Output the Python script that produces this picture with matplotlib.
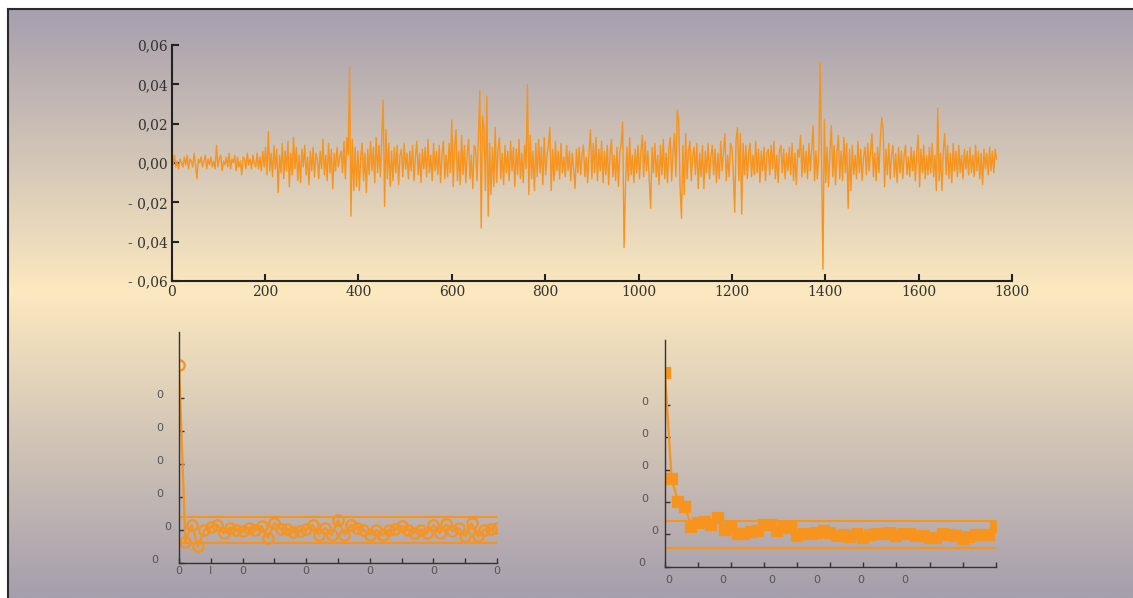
import numpy as np
import matplotlib.pyplot as plt

obs_step = 3
returns_milli = [
    3, -1, 4, -2, 1, -3, 2, 0, -2, 3,
    -1, 4, -3, 2, 1, -2, 5, -1, -8, 2,
    0, 3, -2, 1, 4, -3, 2, -1, 3, -2,
    1, -3, 9, -2, 2, 4, -4, 1, -1, 3,
    -2, 5, -3, 2, 0, 4, -4, 3, -2, 1,
    -6, 3, 2, -3, 5, -1, 2, -3, 4, 0,
    -2, 5, -3, 3, -4, 6, -2, 8, -6, 16,
    -4, 5, -7, 9, -3, 7, -15, 4, -5, 10,
    -8, 6, -4, 11, -12, 5, -6, 13, -3, 8,
    -9, 4, -10, 7, -2, 9, -6, 3, -11, 6,
    -4, 8, -7, 5, 2, -8, 6, -3, 12, -6,
    4, -9, 10, -5, 7, -13, 5, -4, 8, -2,
    3, 6, -5, 11, -8, 13, 4, 49, -27, 12,
    -14, 8, -12, 6, -14, 3, 10, -9, 5, -15,
    7, -6, 11, -4, 8, -10, 13, -5, 9, -7,
    12, 32, -22, 17, -8, 10, -12, 6, -9, 8,
    -5, 9, -11, 4, 7, -7, 10, -3, 5, -8,
    6, -4, 9, -9, 3, 11, -6, 5, -10, 7,
    -3, 8, -7, 12, -5, 4, -9, 10, -4, 6,
    -6, 9, -10, 5, 11, -8, 4, -7, 10, -5,
    22, -12, 8, 17, -9, 6, -11, 14, -6, 9,
    -10, 5, 12, -8, 4, -13, 9, 7, -9, 14,
    37, -33, 24, 18, -14, 34, -27, 10, -16, 8,
    -12, 18, -10, 7, 13, -8, 5, -11, 9, -5,
    6, -9, 11, -4, 8, -12, 7, -6, 12, -8,
    5, -10, 9, -3, 40, -16, 14, -8, 6, -14,
    10, -7, 12, -5, 8, -11, 13, -6, 4, 9,
    18, -14, 7, -9, 11, -4, 6, -8, 10, -5,
    3, -7, 9, -4, 6, -9, 5, -3, -13, 7,
    -5, 8, -6, 4, 9, -7, 3, -10, 6, 17,
    -8, 10, -5, 13, -9, 7, -4, 11, -10, 6,
    -6, 9, -11, 5, 12, -7, 4, -9, 8, -12,
    6, 10, 21, -43, -12, 8, -9, 13, -6, 4,
    -10, 7, -5, 9, -8, 5, 14, -7, 11, -4,
    6, -9, -23, 8, -5, 10, -7, 4, -11, 9,
    -6, 12, -8, 5, -10, 7, 13, -9, 6, 15,
    -7, 27, 22, -12, -28, 9, -16, 15, -8, 6,
    11, -9, 4, 8, -6, 10, -13, 5, -7, 9,
    -13, 6, -5, 10, -8, 3, 9, -6, 7, -10,
    5, -8, 11, -4, 6, 15, -9, 4, -7, 10,
    8, -5, -25, 12, 18, -9, 15, -26, 10, -6,
    9, -8, 5, 10, -7, 4, -6, 11, -5, 7,
    -10, 6, -4, 8, -9, 5, 7, -6, 9, -3,
    11, -8, 4, -10, 6, 9, -5, 7, -8, 5,
    -4, 8, -6, 10, -9, 5, -11, 7, 3, 14,
    -7, 9, -5, 6, -8, 10, -4, 7, 19, -9,
    6, -8, 4, 51, 3, -54, 22, -10, 8, -12,
    6, 19, -7, 9, -11, 5, 14, -8, 6, -9,
    13, -5, 10, -23, 7, -14, 9, -6, 4, -8,
    11, -5, 7, -9, 3, 8, -6, 10, -4, 6,
    15, -7, 5, -9, 8, -5, 12, 23, 17, -12,
    7, -6, 10, -8, 4, 9, -7, 5, -10, 8,
    -5, 6, -8, 4, 9, -6, 3, -7, 8, -4,
    6, -9, 5, 14, -12, 7, -5, 9, -8, 4,
    -6, 8, -5, 10, -7, 4, -14, 28, -9, 5,
    -14, 7, 15, -6, 9, -8, 5, -10, 10, -4,
    6, -7, 9, -5, 4, -8, 7, -3, 6, -6,
    8, -5, 4, -7, 9, -4, 6, -8, 5, -11,
    7, -3, 5, -6, 8, -4, 6, -5, 7, 2,
]

acf_lags = list(range(51))
acf_returns = [
    1.0, -0.071, 0.03, -0.097, 0.0, 0.02, 0.03, -0.018, 0.014, 0.0,
    -0.008, 0.014, 0.0, 0.024, -0.047, 0.044, 0.004, 0.004, -0.012, -0.006,
    0.004, 0.03, -0.028, 0.014, -0.032, 0.059, -0.028, 0.03, 0.01, 0.002,
    -0.028, 0.0, -0.032, 0.0, 0.004, 0.024, 0.002, -0.018, 0.002, -0.018,
    0.03, -0.018, 0.034, -0.006, 0.01, -0.038, 0.04, -0.038, 0.002, 0.008,
    0.01,
]
acf_squared = [
    0.994, 0.342, 0.199, 0.168, 0.047, 0.068, 0.078, 0.057, 0.098, 0.028,
    0.041, 0.004, 0.0, 0.016, 0.02, 0.055, 0.055, 0.02, 0.037, 0.037,
    -0.012, 0.004, 0.0, 0.01, 0.02, 0.01, -0.008, -0.004, -0.014, 0.004,
    -0.02, -0.004, 0.0, 0.0, 0.01, -0.008, 0.0, 0.0, -0.008, -0.012,
    -0.025, -0.02, 0.004, -0.004, -0.012, -0.029, -0.016, -0.004, -0.006, -0.004,
    0.045,
]
band_returns = 0.08
band_squared = 0.085

top_yticks = [-0.06, -0.04, -0.02, 0.0, 0.02, 0.04, 0.06]
top_ylabels = ["- 0,06", "- 0,04", "- 0,02", "0,00", "0,02", "0,04", "0,06"]
top_xticks = [0, 200, 400, 600, 800, 1000, 1200, 1400, 1600, 1800]

acf_xticks = list(range(0, 51, 5))
left_xlabels = ["0", "I", "0", "", "0", "", "0", "", "0", "", "0"]
right_xlabel_pos = [0.6, 8.8, 16.2, 23.0, 29.6, 36.3]
acf_yticks = [-0.2, 0.0, 0.2, 0.4, 0.6, 0.8]

ORANGE = "#F7941D"
W, H = 1133, 598

fig = plt.figure(figsize=(W / 100, H / 100), dpi=100)
fig.patch.set_facecolor("white")

# gradient background inside the frame
bg = fig.add_axes([8 / W, 0, 1 - 8 / W, (H - 9) / H], zorder=-10)
stops = np.array([0.0, 0.48, 1.0])
cols = np.array([[166, 159, 173], [252, 233, 192], [165, 158, 172]]) / 255.0
rows = np.linspace(0, 1, 400)
grad = np.stack([np.interp(rows, stops, cols[:, k]) for k in range(3)], axis=1)
bg.imshow(grad[:, None, :], aspect="auto", extent=[0, 1, 0, 1])
bg.set_xlim(0, 1)
bg.set_ylim(0, 1)
bg.set_xticks([])
bg.set_yticks([])
for s in ["right", "bottom"]:
    bg.spines[s].set_visible(False)
for s in ["left", "top"]:
    bg.spines[s].set_color("#2a2a2a")
    bg.spines[s].set_linewidth(1.5)


def style_axes(ax, lw, color):
    ax.set_facecolor("none")
    for s in ["right", "top"]:
        ax.spines[s].set_visible(False)
    for s in ["left", "bottom"]:
        ax.spines[s].set_color(color)
        ax.spines[s].set_linewidth(lw)


# top panel: return series
ax = fig.add_axes([171.7 / W, 1 - 281 / H, (1012 - 171.7) / W, 236 / H])
style_axes(ax, 1.5, "#222222")
x = np.arange(len(returns_milli)) * obs_step
ax.plot(x, np.array(returns_milli) / 1000.0, color=ORANGE, lw=1.0)
ax.set_xlim(0, 1800)
ax.set_ylim(-0.06, 0.06)
ax.set_yticks(top_yticks)
ax.set_yticklabels(top_ylabels)
ax.set_xticks(top_xticks)
ax.tick_params(direction="in", length=5, width=1.5, color="#222222",
               labelsize=10, labelcolor="#333333", pad=3)
for lab in ax.get_xticklabels() + ax.get_yticklabels():
    lab.set_family("DejaVu Serif")


def acf_panel(rect, values, band, marker, filled, ylab_x, zero_x, low_x):
    a = fig.add_axes(rect)
    style_axes(a, 1.0, "#333333")
    a.plot(acf_lags, values, color=ORANGE, lw=1.6, marker=marker,
           markersize=7 if filled else 7.5,
           markerfacecolor=ORANGE if filled else "none",
           markeredgecolor=ORANGE, markeredgewidth=1.6)
    a.axhline(band, color=ORANGE, lw=1.5)
    a.axhline(-band, color=ORANGE, lw=1.5)
    a.set_xlim(0, 50)
    a.set_ylim(-0.2, 1.2)
    a.set_xticks(acf_xticks)
    a.set_yticks(acf_yticks)
    a.set_yticklabels([])
    a.tick_params(direction="in", length=3.5, width=1, color="#333333",
                  labelsize=8, labelcolor="#555555", pad=2)
    tr = a.get_yaxis_transform()
    for v in acf_yticks:
        if v == 0.0:
            xx = zero_x
        elif v < 0:
            xx = low_x
        else:
            xx = ylab_x
        a.text(xx, v + 0.02, "0", transform=tr, ha="center", va="center",
               fontsize=8, color="#555555")
    return a


left = acf_panel([179 / W, 1 - 563 / H, 318 / W, 231 / H], acf_returns,
                 band_returns, "o", False, -0.06, -0.035, -0.075)
left.set_xticklabels(left_xlabels)

right = acf_panel([665 / W, 1 - 566.7 / H, 330.7 / W, 226.7 / H], acf_squared,
                  band_squared, "s", True, -0.06, -0.03, -0.07)
right.set_xticklabels([])
trx = right.get_xaxis_transform()
for px in right_xlabel_pos:
    right.text(px, -0.035, "0", transform=trx, ha="center", va="top",
               fontsize=8, color="#555555")

fig.savefig("out.png", dpi=100)
